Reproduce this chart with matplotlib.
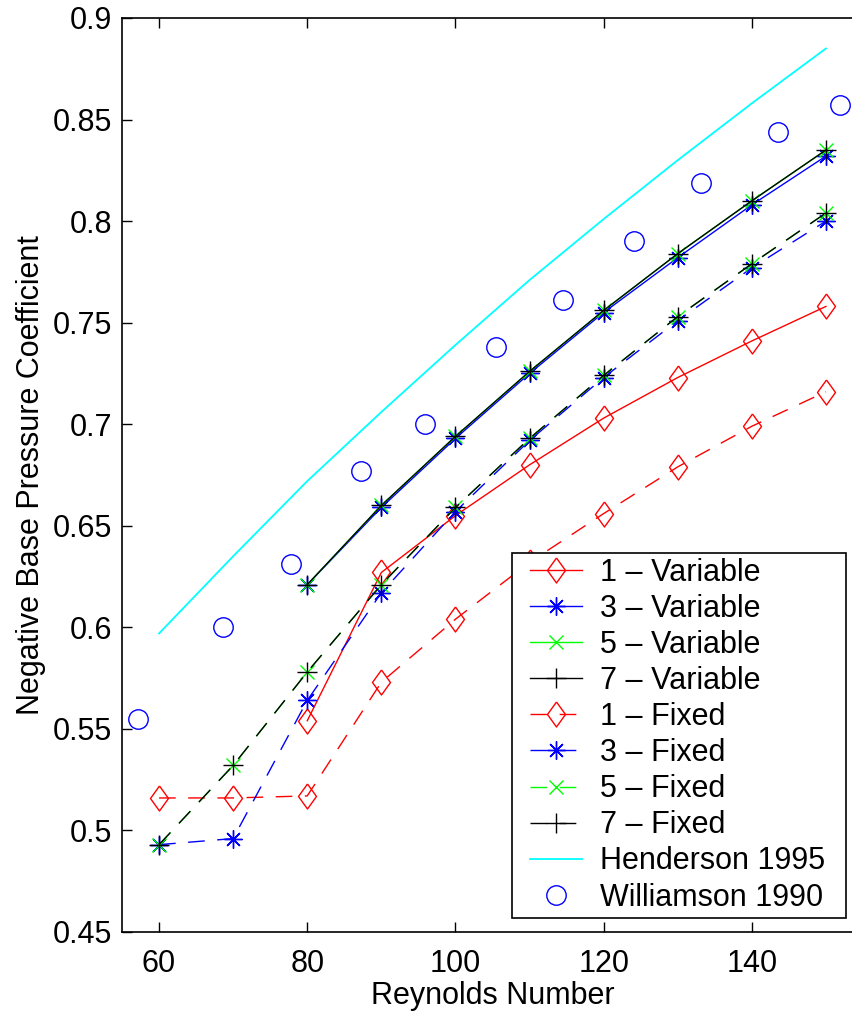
import numpy as np
import matplotlib.pyplot as plt
from matplotlib.patches import Rectangle

plt.rcParams['font.family'] = ['Liberation Sans', 'DejaVu Sans']

# Reynolds numbers
re_var = [80, 90, 100, 110, 120, 130, 140, 150]
re_fix = [60, 70, 80, 90, 100, 110, 120, 130, 140, 150]

# Variable (solid)
cp1_var = [0.554, 0.627, 0.655, 0.680, 0.703, 0.723, 0.741, 0.758]
cp3_var = [0.621, 0.659, 0.693, 0.725, 0.755, 0.782, 0.808, 0.832]
cp5_var = [0.621, 0.660, 0.694, 0.726, 0.756, 0.784, 0.810, 0.835]
cp7_var = [0.621, 0.660, 0.694, 0.726, 0.756, 0.784, 0.810, 0.835]

# Fixed (dashed)
cp1_fix = [0.516, 0.516, 0.517, 0.573, 0.604, 0.632, 0.656, 0.679, 0.699, 0.716]
cp3_fix = [0.493, 0.496, 0.564, 0.617, 0.657, 0.692, 0.723, 0.751, 0.777, 0.800]
cp5_fix = [0.493, 0.532, 0.578, 0.621, 0.659, 0.693, 0.724, 0.753, 0.779, 0.804]
cp7_fix = [0.493, 0.532, 0.578, 0.621, 0.659, 0.693, 0.724, 0.753, 0.779, 0.804]

# Henderson 1995 curve
re_hend = [60, 70, 80, 90, 100, 110, 120, 130, 140, 150]
cp_hend = [0.597, 0.635, 0.672, 0.706, 0.739, 0.771, 0.801, 0.830, 0.858, 0.885]

# Williamson 1990 data
re_will = [57.2, 68.6, 77.8, 87.3, 95.9, 105.5, 114.5, 124.1, 133.1, 143.5, 151.9]
cp_will = [0.555, 0.600, 0.631, 0.677, 0.700, 0.738, 0.761, 0.790, 0.819, 0.844, 0.857]

diamond = [(0, 1), (0.72, 0), (0, -1), (-0.72, 0), (0, 1)]
asterisk = (8, 2, 0)
dash = (0, (12, 9))

fig = plt.figure(figsize=(8.53, 10.14), dpi=100)
ax = fig.add_axes([122/853, 82/1014, 741/853, 914/1014])

kw = dict(linewidth=1.0, markerfacecolor='none')
ax.plot(re_var, cp1_var, color='red', marker=diamond, markersize=18, label='1 – Variable', **kw)
ax.plot(re_var, cp3_var, color='blue', marker=asterisk, markersize=13, label='3 – Variable', **kw)
ax.plot(re_var, cp5_var, color='#00ff00', marker='x', markersize=10, label='5 – Variable', **kw)
ax.plot(re_var, cp7_var, color='black', marker='+', markersize=14, label='7 – Variable', **kw)
ax.plot(re_fix, cp1_fix, color='red', marker=diamond, markersize=18, linestyle=dash, label='1 – Fixed', **kw)
ax.plot(re_fix, cp3_fix, color='blue', marker=asterisk, markersize=13, linestyle=dash, label='3 – Fixed', **kw)
ax.plot(re_fix, cp5_fix, color='#00ff00', marker='x', markersize=10, linestyle=dash, label='5 – Fixed', **kw)
ax.plot(re_fix, cp7_fix, color='black', marker='+', markersize=14, linestyle=dash, label='7 – Fixed', **kw)
ax.plot(re_hend, cp_hend, color='cyan', linewidth=1.3, label='Henderson 1995')
ax.plot(re_will, cp_will, color='blue', marker='o', markersize=14, linestyle='none',
        markerfacecolor='none', markeredgewidth=1.0, label='Williamson 1990')

ax.set_xlim(55, 155)
ax.set_ylim(0.45, 0.9)
ax.set_xticks([60, 80, 100, 120, 140])
yt = [0.45, 0.5, 0.55, 0.6, 0.65, 0.7, 0.75, 0.8, 0.85, 0.9]
ax.set_yticks(yt)
ax.set_yticklabels(['%g' % v for v in yt])
ax.tick_params(direction='in', top=True, right=True, length=7, width=1, labelsize=22)
ax.tick_params(axis='x', pad=12)
ax.tick_params(axis='y', pad=7)
for s in ax.spines.values():
    s.set_linewidth(1.2)

ax.set_xlabel('Reynolds Number', fontsize=22, labelpad=2)
ax.set_ylabel('Negative Base Pressure Coefficient', fontsize=22, labelpad=5)

# legend box
box = Rectangle((0.5263, 0.0153), 0.4507, 0.3994, transform=ax.transAxes,
                facecolor='white', edgecolor='black', linewidth=1.2, zorder=4.5)
ax.add_patch(box)
leg = ax.legend(loc='upper left', bbox_to_anchor=(0.5506, 0.4097), frameon=False,
                fontsize=22, borderpad=0, borderaxespad=0, handlelength=1.7,
                handletextpad=0.6, labelspacing=0.2, numpoints=1)
leg.set_zorder(5)

fig.savefig('out.png', dpi=100)
